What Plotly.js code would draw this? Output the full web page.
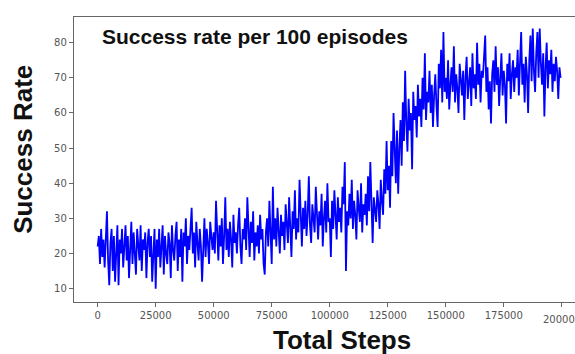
<!DOCTYPE html>
<html>
<head>
<meta charset="utf-8">
<script src="https://cdn.plot.ly/plotly-3.0.1.min.js"></script>
<style>html,body{margin:0;padding:0;background:#fff;overflow:hidden}#chart{width:575px;height:354px}</style>
</head>
<body>
<div id="chart"></div>
<script>
var stepInterval = 500;
var successRate = [
 22,25,17,27,19,24,16,26,32,18, 11,23,27,15,25,12,21,28,11,24,
 20,27,16,22,28,18,25,13,23,29, 17,26,20,14,27,22,18,28,15,24,
 21,26,13,23,27,19,25,12,22,27,
 10,24,19,27,16,22,28,14,25,20, 17,26,23,13,28,21,18,25,29,15,
 24,19,27,12,26,22,30,17,25,21, 28,33,20,26,16,29,23,18,27,22,
 12,25,30,19,27,23,17,29,24,21,
 26,20,35,24,18,28,22,30,17,25, 36,21,27,19,29,24,16,31,23,26,
 20,28,33,22,17,27,24,30,21,36, 25,19,29,23,32,18,26,22,28,20,
 31,24,27,17,14,26,30,22,35,25,
 17,39,24,30,22,33,27,20,31,25, 29,21,34,26,23,36,28,19,32,27,
 38,24,30,26,41,29,22,33,27,35, 25,31,42,28,23,34,30,26,39,29,
 24,32,28,37,22,30,35,26,40,29,
 30,19,35,27,38,31,24,36,29,33, 26,39,34,46,15,32,28,37,30,41,
 27,35,31,24,38,33,29,40,26,34, 31,37,28,42,32,46,30,23,36,33,
 29,38,34,27,41,35,31,44,37,52,
 38,45,33,52,42,60,47,40,55,37, 50,58,45,63,52,72,57,49,64,55,
 60,44,66,58,62,53,68,59,64,56, 70,61,77,58,66,63,72,60,68,56,
 65,71,62,56,74,67,78,63,83,66,
 70,64,75,61,68,73,66,79,63,71, 67,60,74,69,65,72,58,70,76,64,
 69,73,62,77,67,71,64,80,68,74, 63,72,70,76,82,66,73,61,69,57,
 71,75,66,79,68,73,62,70,77,65,
 72,68,57,74,69,77,64,71,75,66, 73,70,78,65,72,83,68,74,63,76,
 71,60,75,82,69,84,72,66,77,83, 70,84,74,68,77,59,73,80,67,75,
 71,78,66,74,69,76,72,64,73,70
];
var totalSteps = successRate.map(function(_, i){ return i * stepInterval; });
var xTicks = [0,25000,50000,75000,100000,125000,150000,175000,200000];
var yTicks = [10,20,30,40,50,60,70,80];
var chartTitle = "Success rate per 100 episodes";
var xTitle = "Total Steps";
var yTitle = "Success Rate";

var trace = {
  x: totalSteps, y: successRate, type: 'scatter', mode: 'lines',
  line: {color: '#0000ff', width: 1.8}, hoverinfo: 'skip'
};
var tickFont = {family: 'DejaVu Sans', size: 10, color: '#555'};
var axisCommon = {
  showgrid: false, zeroline: false, showline: true, linecolor: '#666', linewidth: 1.2,
  ticks: 'outside', ticklen: 4, tickwidth: 1, tickcolor: '#666',
  tickfont: tickFont
};
var xLabels = xTicks.map(function(v){ return v === 200000 ? '' : String(v); });
var titleFont = {family: 'Liberation Sans', size: 26, color: '#111'};
var layout = {
  width: 575, height: 354,
  margin: {l: 74, r: 0, t: 17, b: 52},
  paper_bgcolor: '#fff', plot_bgcolor: '#fff',
  showlegend: false,
  xaxis: Object.assign({}, axisCommon, {
    range: [-10200, 205700], tickvals: xTicks, ticktext: xLabels, mirror: true
  }),
  yaxis: Object.assign({}, axisCommon, {
    range: [6.2, 87.3], tickvals: yTicks, ticktext: yTicks.map(String)
  }),
  annotations: [
    {text: '<b>' + chartTitle + '</b>', xref: 'paper', yref: 'paper',
     x: 0.052, y: 0.93, xanchor: 'left', yanchor: 'middle', showarrow: false,
     font: {family: 'Liberation Sans', size: 21, color: '#111'}},
    {text: String(xTicks[8]), xref: 'x', yref: 'paper', x: xTicks[8], y: -0.035,
     xanchor: 'center', yanchor: 'top', showarrow: false, font: tickFont},
    {text: '<b>' + xTitle + '</b>', xref: 'paper', yref: 'paper',
     x: 0.535, y: -0.133, xanchor: 'center', yanchor: 'middle', showarrow: false, font: titleFont},
    {text: '<b>' + yTitle + '</b>', xref: 'paper', yref: 'paper', textangle: -90,
     x: -0.102, y: 0.537, xanchor: 'center', yanchor: 'middle', showarrow: false, font: titleFont}
  ]
};
Plotly.newPlot('chart', [trace], layout, {displayModeBar: false, staticPlot: true});
</script>
</body>
</html>
